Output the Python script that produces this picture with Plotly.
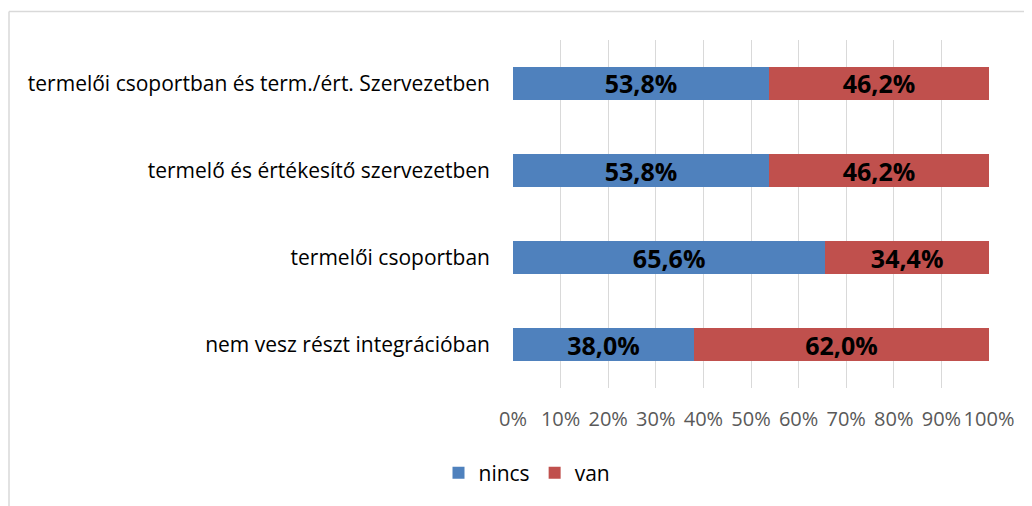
import plotly.graph_objects as go

categories = [
    "nem vesz részt integrációban",
    "termelői csoportban",
    "termelő és értékesítő szervezetben",
    "termelői csoportban és term./ért. Szervezetben",
]
nincs = [38.0, 65.6, 53.8, 53.8]
van = [62.0, 34.4, 46.2, 46.2]
tick_vals = [0, 10, 20, 30, 40, 50, 60, 70, 80, 90, 100]
tick_text = [f"{v}%" for v in tick_vals]

def lab(vals):
    return [f"{v:.1f}%".replace(".", ",") for v in vals]

FONT = "Open Sans"
OFF = 8  # page body margin
W, H = 1024, 498
L, R, T = 513 - OFF, 1032 - 989, 40 - OFF
B = H - (388 - OFF)
pw = W - L - R
ph = H - T - B

fig = go.Figure()
fig.add_trace(go.Bar(
    y=categories, x=nincs, name="nincs", orientation="h",
    marker=dict(color="#4F81BD", line=dict(width=0)),
    text=lab(nincs), textposition="inside", insidetextanchor="middle",
    textfont=dict(family=FONT, size=25, color="black", weight="bold"),
    constraintext="none",
))
fig.add_trace(go.Bar(
    y=categories, x=van, name="van", orientation="h",
    marker=dict(color="#C0504D", line=dict(width=0)),
    text=lab(van), textposition="inside", insidetextanchor="middle",
    textfont=dict(family=FONT, size=25, color="black", weight="bold"),
    constraintext="none",
))

def px_x(p):
    return (p - OFF - L) / pw

def px_y(p):
    return (H - B - (p - OFF)) / ph

fig.update_layout(
    width=W, height=H,
    barmode="stack", bargap=0.61,
    margin=dict(l=L, r=R, t=T, b=B, autoexpand=False),
    paper_bgcolor="white", plot_bgcolor="white",
    font=dict(family=FONT, size=21, color="#000000"),
    xaxis=dict(
        range=[0, 100], tickvals=tick_vals, ticktext=tick_text,
        showgrid=True, gridcolor="#D9D9D9", gridwidth=1,
        zeroline=False, showline=False,
        tickfont=dict(family=FONT, size=20, color="#595959"),
        ticks="", ticklabelstandoff=17,
    ),
    yaxis=dict(
        showgrid=False, zeroline=False, showline=False,
        tickfont=dict(family=FONT, size=21, color="#000000"),
        ticks="", ticklabelstandoff=22,
    ),
    legend=dict(
        orientation="h", x=px_x(527), xanchor="center",
        y=px_y(473), yanchor="middle",
        font=dict(family=FONT, size=21, color="#000000"),
        itemwidth=30, traceorder="normal",
    ),
    shapes=[
        dict(type="line", xref="paper", yref="paper",
             x0=px_x(9), x1=px_x(1040), y0=px_y(11.5), y1=px_y(11.5),
             line=dict(color="#D9D9D9", width=1.5)),
        dict(type="line", xref="paper", yref="paper",
             x0=px_x(9), x1=px_x(9), y0=px_y(11.5), y1=px_y(520),
             line=dict(color="#D9D9D9", width=1.5)),
    ],
)

fig.write_html("out.html")
